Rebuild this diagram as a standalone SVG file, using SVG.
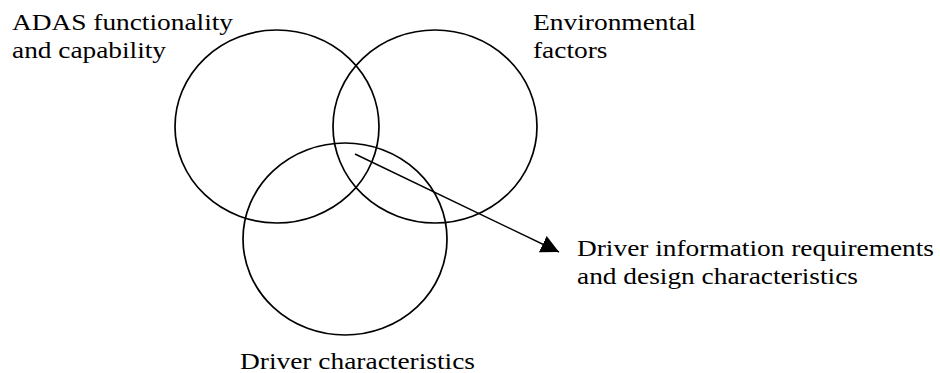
<svg xmlns="http://www.w3.org/2000/svg" width="940" height="373" viewBox="0 0 940 373">
  <style>
    .c { fill: none; stroke: #000; stroke-width: 1.7; }
    .t { font-family: 'Liberation Serif', 'Times New Roman', Times, serif; font-size: 24px; fill: #000; }
    .ln { stroke: #000; stroke-width: 1.4; fill: none; }
  </style>
  <defs>
    <marker id="arr" markerUnits="userSpaceOnUse" markerWidth="20" markerHeight="20" viewBox="0 -10 20 20" refX="18" refY="0" orient="auto">
      <path d="M0,-9 L18,0 L0,9 z" fill="#000"/>
    </marker>
  </defs>
  <rect width="940" height="373" fill="#fff"/>
  <g id="adas">
    <ellipse class="c" cx="277" cy="126.5" rx="102" ry="96.5"/>
    <text class="t" x="12" y="30" textLength="221" lengthAdjust="spacingAndGlyphs">ADAS functionality</text>
    <text class="t" x="12" y="58" textLength="154" lengthAdjust="spacingAndGlyphs">and capability</text>
  </g>
  <g id="environment">
    <ellipse class="c" cx="435" cy="126.5" rx="102" ry="96.5"/>
    <text class="t" x="533" y="30" textLength="163" lengthAdjust="spacingAndGlyphs">Environmental</text>
    <text class="t" x="533" y="58" textLength="74.5" lengthAdjust="spacingAndGlyphs">factors</text>
  </g>
  <g id="driver">
    <ellipse class="c" cx="345" cy="239" rx="102" ry="96"/>
    <text class="t" x="240" y="369" textLength="235" lengthAdjust="spacingAndGlyphs">Driver characteristics</text>
  </g>
  <g id="output">
    <text class="t" x="577" y="256" textLength="357" lengthAdjust="spacingAndGlyphs">Driver information requirements</text>
    <text class="t" x="577" y="284" textLength="281" lengthAdjust="spacingAndGlyphs">and design characteristics</text>
  </g>
  <g id="connectors">
    <line class="ln" x1="355" y1="154" x2="559" y2="252" marker-end="url(#arr)"/>
  </g>
</svg>
